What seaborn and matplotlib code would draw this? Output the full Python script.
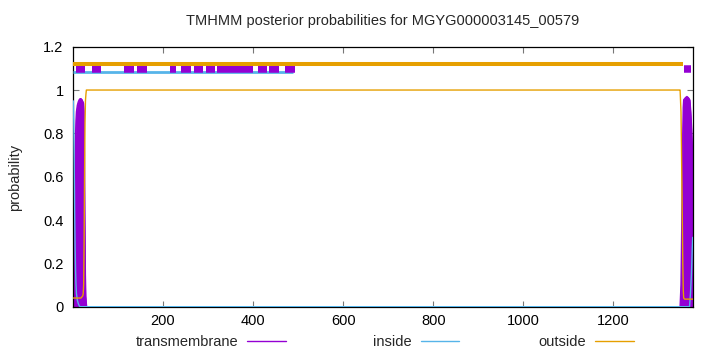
import numpy as np
import pandas as pd
import matplotlib
matplotlib.use("Agg")
import matplotlib.pyplot as plt
from matplotlib.ticker import FuncFormatter, FixedLocator
from matplotlib.lines import Line2D
import seaborn as sns

# ---------------- data ----------------
seq_len = 1376
title = "TMHMM posterior probabilities for MGYG000003145_00579"

# N-terminal region
start_pos = [1, 2, 3, 4, 5, 6, 7, 8, 10, 12, 14, 16, 18, 20, 22, 23, 24, 25, 26, 27, 28, 29, 30, 32]
start_tm = [0.01, 0.10, 0.30, 0.52, 0.68, 0.79, 0.86, 0.90, 0.93, 0.945, 0.955, 0.96,
            0.96, 0.955, 0.945, 0.94, 0.90, 0.70, 0.40, 0.15, 0.05, 0.02, 0.0, 0.0]
start_in = [0.95, 0.86, 0.66, 0.44, 0.28, 0.17, 0.10, 0.06, 0.03, 0.015, 0.005, 0.0,
            0.0, 0.0, 0.0, 0.0, 0.0, 0.0, 0.0, 0.0, 0.0, 0.0, 0.0, 0.0]
start_out = [0.04, 0.04, 0.04, 0.04, 0.04, 0.04, 0.04, 0.04, 0.04, 0.04, 0.04, 0.04,
             0.04, 0.045, 0.05, 0.06, 0.10, 0.30, 0.60, 0.85, 0.95, 0.98, 1.0, 1.0]

# middle region
mid_pos = [40, 1340]
mid_tm = [0.0, 0.0]
mid_in = [0.0, 0.0]
mid_out = [1.0, 1.0]

# C-terminal region
end_pos = [1346, 1348, 1350, 1351, 1352, 1353, 1354, 1355, 1356, 1358, 1360, 1363,
           1366, 1369, 1371, 1373, 1374, 1375, 1376]
end_tm = [0.0, 0.0, 0.1, 0.25, 0.43, 0.61, 0.8, 0.92, 0.955, 0.96, 0.965, 0.97,
          0.965, 0.955, 0.9, 0.82, 0.76, 0.69, 0.64]
end_in = [0.0, 0.0, 0.0, 0.0, 0.0, 0.0, 0.0, 0.0, 0.0, 0.0, 0.0, 0.0,
          0.0, 0.0, 0.06, 0.14, 0.20, 0.27, 0.32]
end_out = [1.0, 1.0, 0.9, 0.75, 0.57, 0.39, 0.2, 0.08, 0.04, 0.035, 0.035, 0.035,
           0.035, 0.035, 0.035, 0.035, 0.035, 0.035, 0.035]

# top annotation bars
tm_seg_start = [8, 42, 114, 143, 215, 241, 269, 295, 319, 410, 436, 472, 1356]
tm_seg_end = [28, 63, 135, 164, 230, 263, 289, 315, 400, 430, 457, 493, 1373]
in_seg_start = [1]
in_seg_end = [488]
out_seg_start = [1]
out_seg_end = [1355]

xticks = [200, 400, 600, 800, 1000, 1200]
yticks = [0, 0.2, 0.4, 0.6, 0.8, 1.0, 1.2]
legend_labels = ["transmembrane", "inside", "outside"]

# ---------------- style ----------------
sns.set_theme(style="white")
plt.rcParams["font.family"] = ["Liberation Sans", "DejaVu Sans"]
FS = 10.5

C_TM = "#9400D3"
C_IN = "#56B4E9"
C_OUT = "#E69F00"

df = pd.DataFrame({
    "pos": start_pos + mid_pos + end_pos,
    "tm": start_tm + mid_tm + end_tm,
    "inside": start_in + mid_in + end_in,
    "outside": start_out + mid_out + end_out,
})

fig = plt.figure(figsize=(7.2, 3.52), dpi=100)
ax = fig.add_axes([73.3 / 720, 1 - 306.7 / 352, (692.7 - 73.3) / 720, (306.7 - 46.7) / 352])

# transmembrane (filled impulses)
ax.fill_between(df["pos"], 0, df["tm"], color=C_TM, lw=0.8, edgecolor=C_TM, zorder=2)
sns.lineplot(data=df, x="pos", y="tm", color=C_TM, lw=1, ax=ax, estimator=None,
             sort=False, zorder=2)
sns.lineplot(data=df, x="pos", y="inside", color=C_IN, lw=1, ax=ax, estimator=None,
             sort=False, zorder=3)
sns.lineplot(data=df, x="pos", y="outside", color=C_OUT, lw=1, ax=ax, estimator=None,
             sort=False, zorder=3)

# top bars
ax.hlines([1.12] * len(out_seg_start), out_seg_start, out_seg_end, colors=C_OUT,
          linewidths=2.9, capstyle="butt", zorder=5)
ax.hlines([1.082] * len(in_seg_start), in_seg_start, in_seg_end, colors=C_IN,
          linewidths=2.0, capstyle="butt", zorder=3)
ax.hlines([1.097] * len(tm_seg_start), tm_seg_start, tm_seg_end, colors=C_TM,
          linewidths=5.4, capstyle="butt", zorder=4)

ax.set_xlim(1, seq_len)
ax.set_ylim(0, 1.2)
ax.xaxis.set_major_locator(FixedLocator(xticks))
ax.yaxis.set_major_locator(FixedLocator(yticks))
ax.yaxis.set_major_formatter(FuncFormatter(lambda v, p: f"{v:g}"))
ax.tick_params(direction="in", length=4, width=0.8, color="#777777",
               top=True, right=True, bottom=True, left=True,
               labelsize=FS, labelcolor="black")
ax.tick_params(axis="y", pad=7)
ax.tick_params(axis="x", pad=5.5)
for s in ax.spines.values():
    s.set_color("black")
    s.set_linewidth(0.9)
ax.set_xlabel("")
ax.set_ylabel("")

fig.text(15 / 720, 1 - 177 / 352, "probability", rotation=90, ha="center",
         va="center", fontsize=FS)
fig.text(383 / 720, 1 - 21 / 352, title, ha="center", va="center", fontsize=FS)

# legend (gnuplot style: text then sample)
legend_colors = [C_TM, C_IN, C_OUT]
legend_right = [286, 459.5, 633.5]
for lab, col, xr in zip(legend_labels, legend_colors, legend_right):
    h = Line2D([], [], color=col, lw=1)
    fig.legend([h], [lab], loc="center right", bbox_to_anchor=(xr / 720, 1 - 342 / 352),
               frameon=False, markerfirst=False, fontsize=FS, borderpad=0,
               borderaxespad=0, handlelength=2.67, handletextpad=0.62)

fig.savefig("out.png", dpi=100)
